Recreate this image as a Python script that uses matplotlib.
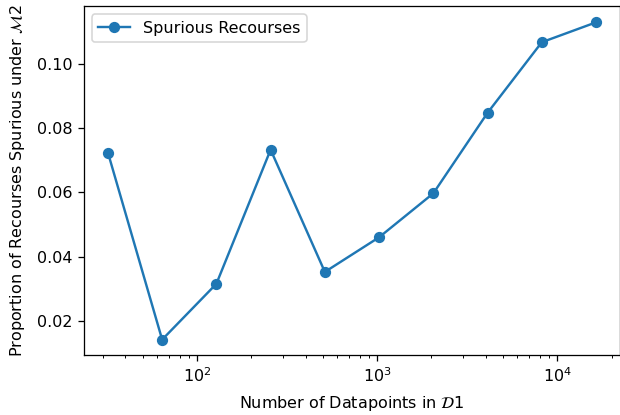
import numpy as np
import matplotlib
matplotlib.use('Agg')
import matplotlib.pyplot as plt

# --- data --- #
num_points = [32, 64, 128, 256, 512, 1024, 2048, 4096, 8192, 16384]
spurious = [0.0724, 0.0141, 0.0315, 0.0733, 0.0352, 0.0460, 0.0597, 0.0848, 0.1068, 0.1130]

# original looks like a scaled-up notebook figure, so render at a higher dpi
dpi = 115.5
fig = plt.figure(figsize=(620 / dpi, 415 / dpi), dpi=dpi)
ax = fig.add_axes([0.1347, 0.1434, 0.866, 0.841])

ax.plot(num_points, spurious, marker='o', label='Spurious Recourses')
ax.set_xscale('log')

ax.set_xlabel(r'Number of Datapoints in $\mathcal{D}1$', labelpad=5.5)
ax.set_ylabel(r'Proportion of Recourses Spurious under $\mathcal{M}2$', labelpad=6)
ax.legend(loc='upper left')

fig.savefig('out.png', dpi=dpi)
